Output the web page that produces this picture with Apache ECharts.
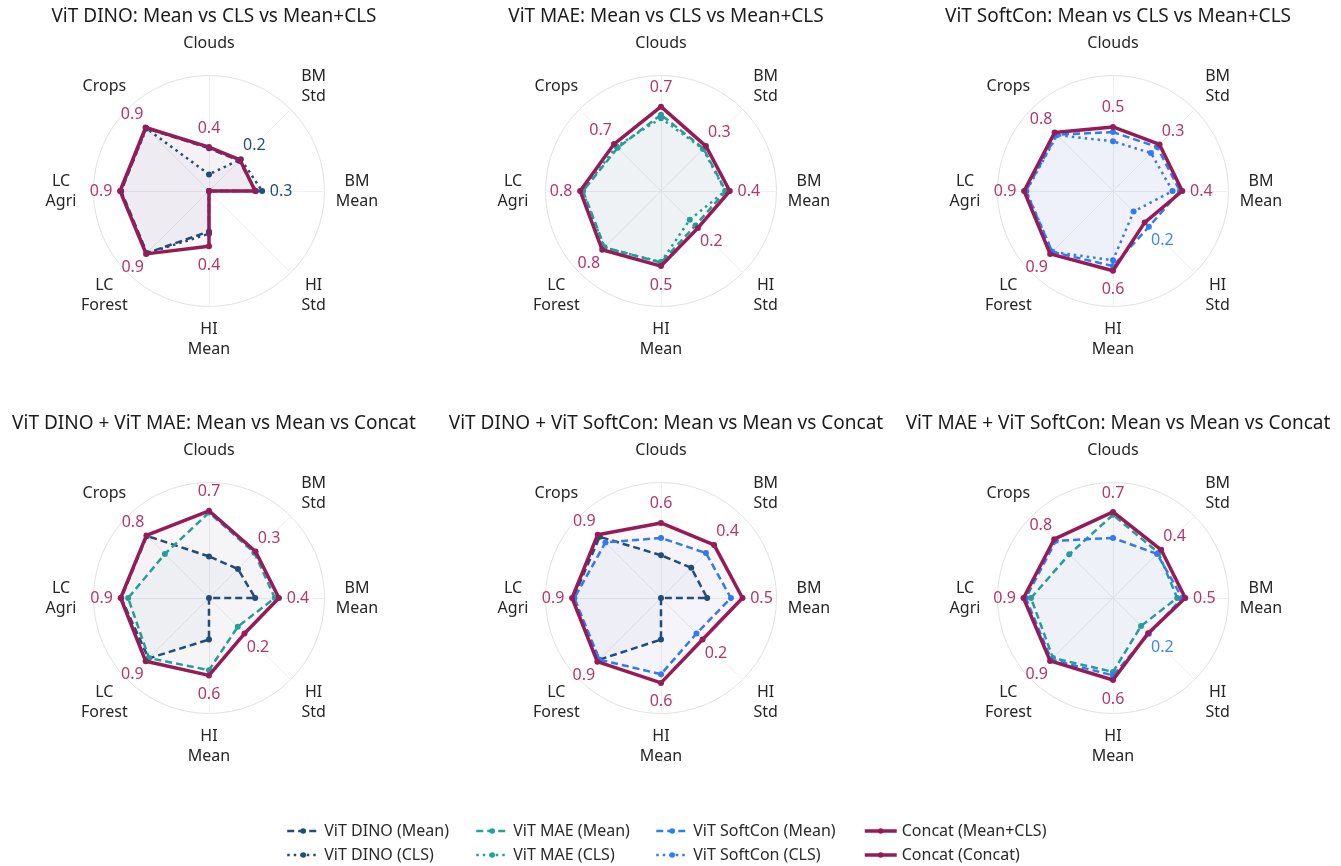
<!DOCTYPE html>
<html>
<head>
<meta charset="utf-8">
<script src="https://cdn.jsdelivr.net/npm/echarts@6/dist/echarts.min.js"></script>
<style>
  html, body { margin: 0; padding: 0; background: #ffffff; }
  #chart { width: 1341px; height: 866px; }
</style>
</head>
<body>
<div id="chart"></div>
<script>
// Tasks, listed clockwise from the top of each radar
const tasks = ['Clouds', 'BM\nStd', 'BM\nMean', 'HI\nStd', 'HI\nMean', 'LC\nForest', 'LC\nAgri', 'Crops'];
// Per-task scale used by every radar (value at centre / value at outer ring)
const taskMin = [0.10, 0.00, 0.02, 0.10, 0.15, 0.25, 0.25, 0.08];
const taskMax = [0.90, 0.60, 0.72, 0.33, 0.75, 1.05, 1.05, 1.08];

const panelTitles = [
  'ViT DINO: Mean vs CLS vs Mean+CLS',
  'ViT MAE: Mean vs CLS vs Mean+CLS',
  'ViT SoftCon: Mean vs CLS vs Mean+CLS',
  'ViT DINO + ViT MAE: Mean vs Mean vs Concat',
  'ViT DINO + ViT SoftCon: Mean vs Mean vs Concat',
  'ViT MAE + ViT SoftCon: Mean vs Mean vs Concat'
];

// Scores per panel (task order as in `tasks`)
const p1DinoMean = [0.396, 0.222, 0.305, 0.100, 0.360, 0.858, 0.858, 0.850];
const p1DinoCls  = [0.215, 0.234, 0.342, 0.100, 0.372, 0.862, 0.862, 0.845];
const p1Concat   = [0.404, 0.228, 0.300, 0.100, 0.437, 0.866, 0.866, 0.857];

const p2MaeMean  = [0.628, 0.312, 0.412, 0.197, 0.522, 0.802, 0.790, 0.610];
const p2MaeCls   = [0.604, 0.309, 0.409, 0.181, 0.519, 0.806, 0.794, 0.625];
const p2Concat   = [0.684, 0.330, 0.437, 0.204, 0.540, 0.826, 0.810, 0.655];

const p3SoftMean = [0.508, 0.324, 0.426, 0.201, 0.540, 0.846, 0.854, 0.770];
const p3SoftCls  = [0.444, 0.279, 0.381, 0.158, 0.510, 0.846, 0.850, 0.765];
const p3Concat   = [0.544, 0.342, 0.440, 0.189, 0.564, 0.866, 0.866, 0.795];

const p4DinoMean = [0.388, 0.213, 0.300, 0.100, 0.366, 0.842, 0.858, 0.840];
const p4MaeMean  = [0.692, 0.333, 0.419, 0.181, 0.525, 0.838, 0.810, 0.620];
const p4Concat   = [0.704, 0.342, 0.444, 0.200, 0.552, 0.870, 0.862, 0.846];

const p5DinoMean = [0.396, 0.222, 0.300, 0.100, 0.366, 0.854, 0.858, 0.830];
const p5SoftMean = [0.516, 0.330, 0.444, 0.200, 0.546, 0.854, 0.850, 0.760];
const p5Concat   = [0.620, 0.390, 0.514, 0.217, 0.591, 0.874, 0.866, 0.855];

const p6MaeMean  = [0.676, 0.333, 0.409, 0.179, 0.534, 0.838, 0.818, 0.615];
const p6SoftMean = [0.516, 0.324, 0.440, 0.201, 0.552, 0.854, 0.854, 0.780];
const p6Concat   = [0.696, 0.354, 0.458, 0.199, 0.576, 0.866, 0.870, 0.800];

// ---- styling ----
const FONT = 'Noto Sans';
const C_DINO = '#1f4e79', C_MAE = '#22a39a', C_SOFT = '#2f7df6', C_CONCAT = '#951c56';
const styles = {
  dinoMean:  { name: 'ViT DINO (Mean)',    color: C_DINO,   label: C_DINO,    dash: [7, 4],   width: 2.5 },
  dinoCls:   { name: 'ViT DINO (CLS)',     color: C_DINO,   label: C_DINO,    dash: [2.5, 4], width: 2.5 },
  maeMean:   { name: 'ViT MAE (Mean)',     color: C_MAE,    label: C_MAE,     dash: [7, 4],   width: 2.5 },
  maeCls:    { name: 'ViT MAE (CLS)',      color: C_MAE,    label: C_MAE,     dash: [2.5, 4], width: 2.5 },
  softMean:  { name: 'ViT SoftCon (Mean)', color: C_SOFT,   label: '#3a86f7', dash: [7, 4],   width: 2.5 },
  softCls:   { name: 'ViT SoftCon (CLS)',  color: C_SOFT,   label: '#3a86f7', dash: [2.5, 4], width: 2.5 },
  concatMC:  { name: 'Concat (Mean+CLS)',  color: C_CONCAT, label: '#b2386c', dash: 'solid',  width: 3.5 },
  concatCC:  { name: 'Concat (Concat)',    color: C_CONCAT, label: '#b2386c', dash: 'solid',  width: 3.5 }
};

const panels = [
  { lines: [['dinoMean', p1DinoMean], ['dinoCls', p1DinoCls], ['concatMC', p1Concat]] },
  { lines: [['maeMean', p2MaeMean], ['maeCls', p2MaeCls], ['concatMC', p2Concat]] },
  { lines: [['softMean', p3SoftMean], ['softCls', p3SoftCls], ['concatMC', p3Concat]] },
  { lines: [['dinoMean', p4DinoMean], ['maeMean', p4MaeMean], ['concatCC', p4Concat]] },
  { lines: [['dinoMean', p5DinoMean], ['softMean', p5SoftMean], ['concatCC', p5Concat]] },
  { lines: [['maeMean', p6MaeMean], ['softMean', p6SoftMean], ['concatCC', p6Concat]] }
];

// layout of the 2 x 3 grid of radars
const colX = [209, 661, 1113];
const rowY = [191, 598];
const titleTop = [2, 409];
const RADIUS = 115.5;
const LABEL_GAP = 19;

// ECharts lays indicators out counter-clockwise; reverse after the first to go clockwise
const order = tasks.map((_, i) => (i === 0 ? 0 : tasks.length - i));
const reorder = arr => order.map(i => arr[i]);

const indicator = order.map(i => ({ name: tasks[i], min: taskMin[i], max: taskMax[i] }));

const radars = [], titles = [], series = [];

// empty line series: they only provide line-style legend icons
Object.keys(styles).forEach(k => {
  const s = styles[k];
  series.push({
    type: 'line', name: s.name, data: [], xAxisIndex: 0, yAxisIndex: 0,
    symbol: 'circle', symbolSize: 6,
    itemStyle: { color: s.color },
    lineStyle: { color: s.color, type: s.dash, width: s.width }
  });
});

panels.forEach((panel, pi) => {
  const cx = colX[pi % 3], cy = rowY[Math.floor(pi / 3)];
  radars.push({
    center: [cx, cy],
    radius: RADIUS,
    startAngle: 90,
    shape: 'circle',
    splitNumber: 1,
    indicator: indicator,
    nameGap: 32.5,
    axisName: {
      color: '#262626', fontSize: 16, fontFamily: FONT, lineHeight: 20,
      align: 'center', verticalAlign: 'middle'
    },
    splitLine: { lineStyle: { color: '#e2e2e2', width: 1 } },
    splitArea: { show: false },
    axisLine: { lineStyle: { color: '#efefef', width: 1 } }
  });
  titles.push({
    text: panelTitles[pi],
    left: cx, top: titleTop[Math.floor(pi / 3)], textAlign: 'center',
    textStyle: { fontFamily: FONT, fontSize: 19, fontWeight: 'normal', color: '#1c1c1c' }
  });

  // which line holds the highest score on each axis (no label if nothing is above the centre)
  const vals = panel.lines.map(l => reorder(l[1]));
  const mins = reorder(taskMin);
  const best = mins.map((m, d) => {
    let bi = -1, bv = m;
    vals.forEach((v, li) => { if (v[d] > bv) { bv = v[d]; bi = li; } });
    return bi;
  });

  panel.lines.forEach((l, li) => {
    const s = styles[l[0]];
    series.push({
      type: 'radar',
      name: s.name,
      radarIndex: pi,
      symbol: 'circle',
      symbolSize: 6,
      z: l[0].startsWith('concat') ? 4 : 3,
      itemStyle: { color: s.color },
      lineStyle: { color: s.color, type: s.dash, width: s.width },
      areaStyle: { color: s.color, opacity: 0.03 },
      label: {
        show: true,
        color: s.label, fontSize: 16, fontFamily: FONT,
        formatter: p => (best[p.dimensionIndex] === li ? Number(p.value).toFixed(1) : '')
      },
      labelLayout: p => {
        const r = p.rect;
        const x = r.x + r.width / 2, y = r.y + r.height / 2;
        const dx = x - cx, dy = y - cy;
        const d = Math.hypot(dx, dy) || 1;
        return {
          x: cx + dx / d * (d + LABEL_GAP),
          y: cy + dy / d * (d + LABEL_GAP),
          align: 'center', verticalAlign: 'middle'
        };
      },
      data: [{ name: s.name, value: vals[li] }]
    });
  });
});

// legend: two rows of four entries, aligned in columns
const legendRows = [
  ['dinoMean', 'maeMean', 'softMean', 'concatMC'],
  ['dinoCls', 'maeCls', 'softCls', 'concatCC']
];
const legendLeft = [281, 470, 650, 858];
const legendTop = [818, 842];
const legends = [];
legendRows.forEach((row, ri) => {
  row.forEach((k, ci) => {
    legends.push({
      orient: 'horizontal',
      left: legendLeft[ci], top: legendTop[ri],
      itemWidth: 32, itemHeight: 7, itemGap: 8,
      textStyle: { fontFamily: FONT, fontSize: 16, color: '#2a2a2a' },
      data: [{ name: styles[k].name, lineStyle: { width: styles[k].width } }]
    });
  });
});

const chart = echarts.init(document.getElementById('chart'), null, { renderer: 'canvas' });
chart.setOption({
  backgroundColor: '#ffffff',
  animation: false,
  title: titles,
  legend: legends,
  grid: { show: false, left: 0, top: 0, width: 1, height: 1 },
  xAxis: { type: 'value', show: false },
  yAxis: { type: 'value', show: false },
  radar: radars,
  series: series
});
</script>
</body>
</html>
